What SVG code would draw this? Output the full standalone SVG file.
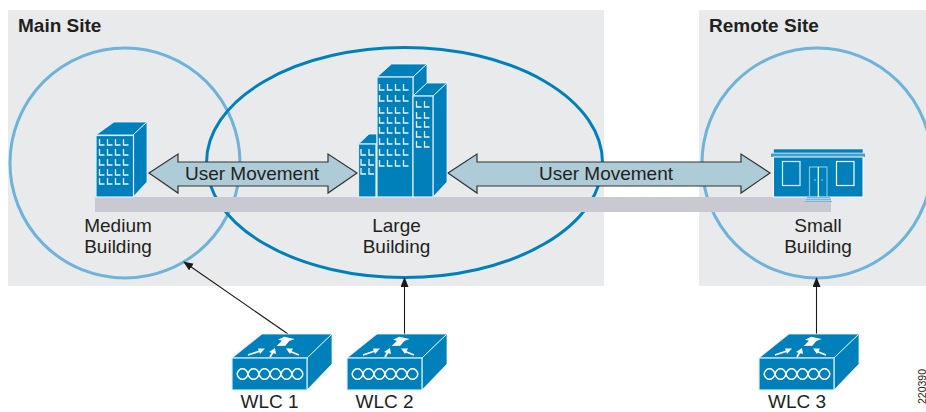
<svg xmlns="http://www.w3.org/2000/svg" width="926" height="412" viewBox="0 0 926 412">
<style>
text{font-family:"Liberation Sans",Arial,sans-serif;fill:#231f20}
.lbl{font-size:19px;text-anchor:middle}
.site{font-size:19px;font-weight:bold}
.panel{fill:#e9eaec}
.front{fill:#0080bb;stroke:#dbeef8;stroke-width:1.2}
.top{fill:#0080bb;stroke:#eef6fb;stroke-width:.8}
.win{fill:none;stroke:#e6f3fa;stroke-width:1.3}
.arrow{fill:#aecbd8;stroke:#333;stroke-width:1.2}
.ring{fill:none;stroke:#6fb3d9;stroke-width:3}
.conn{fill:none;stroke:#1a1a1a;stroke-width:1.1}
.wl{fill:none;stroke:#fff;stroke-width:1.8}
</style>
<defs>
<marker id="ah" markerWidth="10" markerHeight="10" refX="9" refY="4" orient="auto" markerUnits="userSpaceOnUse"><path d="M0 0L10 4L0 8Z" fill="#1a1a1a"/></marker>
<path id="L" d="M0 0V6H5" class="win"/>
<g id="wlc">
<path d="M0 24L30 0H100L75 24Z" class="top"/>
<path d="M75 24L100 0V30L75 56Z" class="top"/>
<rect x="0" y="24" width="75" height="32" class="front"/>
<path d="M52.300 2.700L62.700 5L57.300 7L53.300 11.700L44.700 12L50 6.700L46 5.700Z" fill="#fff"/>
<path d="M16 21L28 17M38 23L41 18M67 21L57 17" class="wl"/>
<path d="M33 14.500L26 14.500L28 20ZM43 14L37 18L44 20ZM54 14.500L61 14.500L58 20Z" fill="#fff"/>
<path d="M5 40C7 33 14 33 16 40S25 47 27 40S36 33 38 40S47 47 49 40S58 33 60 40S69 47 71 40" fill="none" stroke="#fff" stroke-width="1.4"/>
<path d="M5 40C7 47 14 47 16 40S25 33 27 40S36 47 38 40S47 33 49 40S58 47 60 40S69 33 71 40" fill="none" stroke="#fff" stroke-width="1.4"/>
</g>
</defs>

<g id="site-panels">
<rect class="panel" x="8" y="10" width="596" height="276"/>
<rect class="panel" x="699" y="10" width="227" height="276"/>
<text class="site" x="18" y="32">Main Site</text>
<text class="site" x="709" y="32">Remote Site</text>
</g>

<g id="zone-medium"><circle class="ring" cx="125" cy="163" r="115"/></g>
<g id="zone-large"><ellipse cx="404.500" cy="162.500" rx="198" ry="115" fill="none" stroke="#0080bb" stroke-width="3"/></g>
<g id="zone-small"><circle class="ring" cx="817" cy="163" r="115"/></g>

<g id="floor"><rect x="95" y="197" width="736" height="15" fill="#c8c9d1"/></g>

<g id="connectors">
<path class="arrow" d="M149 173L178 154V162H328V154L357 173L328 193V186H178V193Z"/>
<path class="arrow" d="M448 173L477 154V162H741V154L770 173L741 193V186H477V193Z"/>
<path class="conn" d="M288 334L184 262" marker-end="url(#ah)"/>
<path class="conn" d="M404.500 334V278" marker-end="url(#ah)"/>
<path class="conn" d="M816.500 334V278" marker-end="url(#ah)"/>
<text class="lbl" x="252" y="180">User Movement</text>
<text class="lbl" x="606" y="180">User Movement</text>
</g>

<g id="medium-building">
<path class="top" d="M96 135L114 122H147L133 135Z"/>
<path class="top" d="M133 135L147 122V182L133 197Z"/>
<rect class="front" x="96" y="135.500" width="37.500" height="61.500"/>
<g>
<use href="#L" x="99.500" y="139"/><use href="#L" x="107.500" y="139"/><use href="#L" x="115.500" y="139"/><use href="#L" x="123.500" y="139"/>
<use href="#L" x="99.500" y="149"/><use href="#L" x="107.500" y="149"/><use href="#L" x="115.500" y="149"/><use href="#L" x="123.500" y="149"/>
<use href="#L" x="99.500" y="159"/><use href="#L" x="107.500" y="159"/><use href="#L" x="115.500" y="159"/><use href="#L" x="123.500" y="159"/>
<use href="#L" x="99.500" y="169"/><use href="#L" x="107.500" y="169"/><use href="#L" x="115.500" y="169"/><use href="#L" x="123.500" y="169"/>
<use href="#L" x="99.500" y="178"/><use href="#L" x="107.500" y="178"/><use href="#L" x="115.500" y="178"/><use href="#L" x="123.500" y="178"/>
</g>
<text class="lbl" x="118" y="232">Medium</text>
<text class="lbl" x="118" y="253">Building</text>
</g>

<g id="large-building">
<path class="top" d="M377 77L391.500 64H427L413 77Z"/>
<path class="top" d="M413 77L427 64V83L413 96Z"/>
<path class="top" d="M413 96L427 83H447L433 96Z"/>
<path class="top" d="M433 96L447 83V182L433 197Z"/>
<path class="top" d="M358.500 144L369 134H377V144Z"/>
<rect class="front" x="358.500" y="144" width="17.500" height="53"/>
<rect class="front" x="377" y="77" width="36" height="120"/>
<rect class="front" x="413" y="96" width="20" height="101"/>
<g>
<use href="#L" x="379.500" y="84"/><use href="#L" x="387.500" y="84"/><use href="#L" x="395.500" y="84"/><use href="#L" x="403.500" y="84"/>
<use href="#L" x="379.500" y="95"/><use href="#L" x="387.500" y="95"/><use href="#L" x="395.500" y="95"/><use href="#L" x="403.500" y="95"/>
<use href="#L" x="379.500" y="107"/><use href="#L" x="387.500" y="107"/><use href="#L" x="395.500" y="107"/><use href="#L" x="403.500" y="107"/>
<use href="#L" x="379.500" y="117"/><use href="#L" x="387.500" y="117"/><use href="#L" x="395.500" y="117"/><use href="#L" x="403.500" y="117"/>
<use href="#L" x="379.500" y="127"/><use href="#L" x="387.500" y="127"/><use href="#L" x="395.500" y="127"/><use href="#L" x="403.500" y="127"/>
<use href="#L" x="379.500" y="138"/><use href="#L" x="387.500" y="138"/><use href="#L" x="395.500" y="138"/><use href="#L" x="403.500" y="138"/>
<use href="#L" x="379.500" y="149"/><use href="#L" x="387.500" y="149"/><use href="#L" x="395.500" y="149"/><use href="#L" x="403.500" y="149"/>
<use href="#L" x="379.500" y="160"/><use href="#L" x="387.500" y="160"/><use href="#L" x="395.500" y="160"/><use href="#L" x="403.500" y="160"/>
<use href="#L" x="416.500" y="101"/><use href="#L" x="424.500" y="101"/>
<use href="#L" x="416.500" y="112"/><use href="#L" x="424.500" y="112"/>
<use href="#L" x="416.500" y="121"/><use href="#L" x="424.500" y="121"/>
<use href="#L" x="416.500" y="131"/><use href="#L" x="424.500" y="131"/>
<use href="#L" x="416.500" y="141"/><use href="#L" x="424.500" y="141"/>
<use href="#L" x="361" y="149"/><use href="#L" x="369" y="149"/>
<use href="#L" x="361" y="159"/><use href="#L" x="369" y="159"/>
<use href="#L" x="361" y="168"/><use href="#L" x="369" y="168"/>
</g>
<text class="lbl" x="396.500" y="232">Large</text>
<text class="lbl" x="396.500" y="253">Building</text>
</g>

<g id="small-building">
<rect x="773.500" y="149" width="89.500" height="4" fill="#0080bb" stroke="#eef6fb" stroke-width=".6"/>
<rect x="771" y="153.500" width="94" height="3.500" fill="#3f9fd0"/>
<rect x="773.500" y="157" width="89.500" height="40" fill="#0080bb" stroke="#fff" stroke-width="1"/>
<rect x="782.500" y="161.500" width="17.500" height="24" fill="none" stroke="#dceef8" stroke-width="1.200"/>
<rect x="836.500" y="161.500" width="17.500" height="24" fill="none" stroke="#fff" stroke-width="1.200"/>
<rect x="809.500" y="167" width="17.500" height="30" fill="none" stroke="#7fc0e2" stroke-width="1.200"/>
<path d="M818.300 167V197" stroke="#fff" stroke-width="1.200"/>
<path d="M814 180H816M821 180H823" stroke="#9fd0ea" stroke-width="1.200"/>
<path d="M807 197.500H830M806 199.500H831M805 201.500H832" stroke="#6fb8de" stroke-width="1"/>
<text class="lbl" x="818" y="232">Small</text>
<text class="lbl" x="818" y="253">Building</text>
</g>

<g id="wlc-1"><use href="#wlc" x="232" y="334"/><text class="lbl" x="269.500" y="408">WLC 1</text></g>
<g id="wlc-2"><use href="#wlc" x="347" y="334"/><text class="lbl" x="384.500" y="408">WLC 2</text></g>
<g id="wlc-3"><use href="#wlc" x="759" y="334"/><text class="lbl" x="797" y="408">WLC 3</text></g>
<text x="925.500" y="404" font-size="10.500" transform="rotate(-90 925.500 404)">220390</text>
</svg>
